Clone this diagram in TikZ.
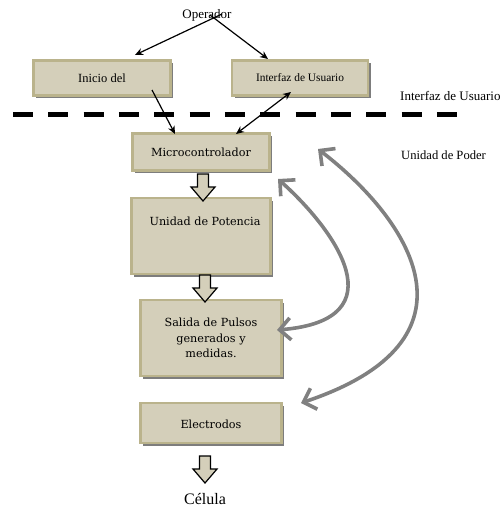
\documentclass[tikz,border=0pt]{standalone}
\usepackage{fontspec}
\setmainfont{Liberation Serif}
\newfontfamily\boxfont{DejaVu Serif}
\usetikzlibrary{arrows.meta,shadows,calc}
\definecolor{boxfill}{RGB}{212,207,186}
\definecolor{boxedge}{RGB}{186,179,140}
\definecolor{shade}{RGB}{125,125,125}
\definecolor{curvegray}{RGB}{128,128,128}
\tikzset{
  box/.style={draw=boxedge, line width=2.5pt, fill=boxfill, inner sep=0pt, align=center,
    drop shadow={shadow xshift=2.5pt, shadow yshift=-2.5pt, fill=shade, opacity=1}},
  intext/.style={font=\boxfont\fontsize{11.2}{15.5}\selectfont, align=center, inner sep=0pt},
  toptext/.style={inner sep=0pt},
  blackarrow/.style={line width=1.2pt, -{Stealth[length=8pt,width=7pt]}},
  blackdouble/.style={line width=1.2pt, {Stealth[length=8pt,width=7pt]}-{Stealth[length=8pt,width=7pt]}},
  grayarrow/.style={draw=curvegray, line width=3.6pt,
    {Straight Barb[length=11pt,width=22pt]}-{Straight Barb[length=11pt,width=22pt]}},
  blockarr/.pic={\draw[line width=1.2pt, fill=boxfill, line join=miter]
    (-5.5,0) -- (5.5,0) -- (5.5,13) -- (12,13) -- (0,27) -- (-12,13) -- (-5.5,13) -- cycle;}
}
\begin{document}
\begin{tikzpicture}[x=1pt,y=-1pt]
\useasboundingbox (0,0) rectangle (501,508);
% top texts
\node[toptext, font=\fontsize{13}{15}\selectfont] (operador) at (207,15) {Operador};
\node[toptext, font=\fontsize{13}{15}\selectfont, anchor=west] (labUI) at (400,96) {Interfaz de Usuario};
\node[toptext, font=\fontsize{12.6}{15}\selectfont, anchor=west] (labUP) at (401,155) {Unidad de Poder};
% boxes
\node[box, minimum width=137pt, minimum height=35pt, font=\fontsize{12.5}{15}\selectfont] (inicio) at (102,78) {Inicio del};
\node[box, minimum width=136pt, minimum height=35pt, font=\fontsize{11.4}{15}\selectfont] (interfaz) at (300,78) {Interfaz de Usuario};
\node[box, minimum width=137pt, minimum height=37pt] (micro) at (201,152) {};
\node[intext] at (micro) {Microcontrolador};
\node[box, minimum width=139pt, minimum height=76pt] (potencia) at (201,236) {};
\node[intext, anchor=base] (potText) at (205,225) {Unidad de Potencia};
\node[box, minimum width=141pt, minimum height=76pt] (salida) at (211,338) {};
\node[intext] (salText) at (211,338) {Salida de Pulsos\\generados y\\medidas.};
\node[box, minimum width=141pt, minimum height=40pt] (electrodos) at (211,423) {};
\node[intext] (eleText) at (211,424) {Electrodos};
\node[toptext, font=\fontsize{16}{18}\selectfont] (celula) at (205,499) {Célula};
% dashed separator
\draw[line width=5pt, dash pattern=on 20pt off 15.33pt] (13,115) -- (457,115);
% black arrows
\coordinate (opL) at (222,14);
\coordinate (opR) at (210,15);
\coordinate (inL) at (135,55);
\coordinate (inR) at (268,59);
\draw[blackarrow] (opL) -- (inL);
\draw[blackarrow] (opR) -- (inR);
\coordinate (iniOut) at (152,90);
\coordinate (microInA) at (175,134);
\draw[blackarrow] (iniOut) -- (microInA);
\coordinate (intOut) at (291,92);
\coordinate (microInB) at (236,134);
\draw[blackdouble] (intOut) -- (microInB);
% block arrows
\pic at (203,174) {blockarr};
\pic at (205,275) {blockarr};
\pic at (205,456) {blockarr};
% gray curved arrows
\coordinate (gA1) at (278,179);
\coordinate (gA2) at (277,330);
\coordinate (gB1) at (318,149);
\coordinate (gB2) at (301,403);
\draw[grayarrow] (gA1) .. controls (335,230) and (400,320) .. (gA2);
\draw[grayarrow] (gB1) .. controls (410,220) and (490,340) .. (gB2);
\end{tikzpicture}
\end{document}
